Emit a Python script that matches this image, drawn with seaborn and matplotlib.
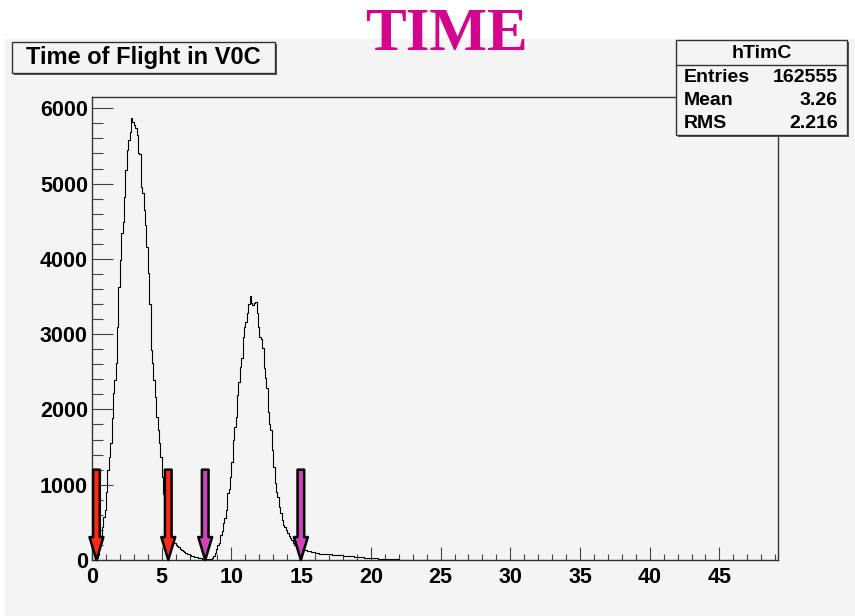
import numpy as np
import pandas as pd
import matplotlib
matplotlib.use("Agg")
import matplotlib.pyplot as plt
import seaborn as sns
from matplotlib.patches import Rectangle
from matplotlib.ticker import MultipleLocator

# ---------------- data ----------------
bin_width = 0.1
counts = [
    1, 4, 10, 25, 60, 150, 266, 442, 575, 664,
    900, 1195, 1372, 1549, 1880, 2213, 2390, 2612, 3100, 3630,
    3984, 4339, 4493, 4825, 5179, 5445, 5578, 5688, 5866, 5821,
    5777, 5733, 5644, 5400, 5390, 4958, 4869, 4650, 4450, 4161,
    3807, 3400, 2789, 2612, 2390, 2169, 1903, 1726, 1549, 1372,
    1100, 880, 720, 590, 480, 400, 340, 290, 255, 230,
    205, 185, 168, 152, 138, 124, 110, 97, 86, 76,
    67, 59, 52, 46, 40, 35, 30, 26, 22, 19,
    17, 15, 13, 13, 15, 19, 24, 55, 89, 140,
    199, 230, 332, 380, 487, 560, 664, 885, 940, 1107,
    1306, 1600, 1770, 1903, 2191, 2368, 2559, 2678, 2966, 3099,
    3165, 3276, 3400, 3506, 3417, 3386, 3417, 3431, 3276, 3099,
    2966, 2930, 2811, 2545, 2413, 2280, 1969, 1800, 1726, 1461,
    1240, 1018, 900, 841, 700, 620, 531, 470, 442, 400,
    354, 325, 288, 262, 230, 205, 188, 172, 160, 150,
    144, 139, 135, 131, 126, 121, 116, 112, 110, 102,
    94, 89, 88, 86, 85, 83, 81, 80, 78, 77,
    76, 74, 73, 71, 69, 68, 66, 64, 62, 61,
    59, 58, 56, 54, 53, 51, 49, 47, 46, 44,
    42, 41, 39, 37, 35, 33, 31, 30, 28, 26,
    25, 23, 22, 21, 20, 18, 17, 16, 15, 14,
    13, 12, 11, 10, 9, 9, 8, 8, 7, 7,
    6, 6, 6, 5, 5, 5, 5, 4, 4, 4,
    4, 4, 3, 3, 3, 3, 3, 3, 2, 2,
    2, 2, 2, 2, 2, 2, 1, 1, 1, 1,
    1, 1, 1, 1, 1, 1, 1, 1, 1, 1,
]
x_ticks = [0, 5, 10, 15, 20, 25, 30, 35, 40, 45]
y_ticks = [0, 1000, 2000, 3000, 4000, 5000, 6000]
x_range = (0, 49.2)
y_range = (0, 6150)
arrow_x = [0.32, 5.47, 8.12, 14.98]
arrow_colors = ["#ff2a14", "#ff2a14", "#cc44b8", "#cc44b8"]
arrow_top = 1200
title_text = "Time of Flight in V0C"
hist_name = "hTimC"
stats_labels = ["Entries", "Mean", "RMS"]
stats_values = ["162555", "3.26", "2.216"]
banner = "TIME"

# ---------------- style ----------------
BG = "#f4f4f4"
sns.set_theme(style="ticks")
plt.rcParams["font.family"] = ["Liberation Sans", "DejaVu Sans"]
plt.rcParams["text.color"] = "black"

W, H = 855, 616
fig = plt.figure(figsize=(W / 100, H / 100), dpi=100, facecolor="white")


def fx(px):
    return px / W


def fy(py):
    return 1 - py / H


# grey canvas
fig.patches.append(Rectangle((fx(5), 0), 1 - fx(5), fy(39), transform=fig.transFigure,
                             fc=BG, ec="none", zorder=-5))

ax = fig.add_axes([fx(92), fy(560), fx(778) - fx(92), fy(97) - fy(560)])
ax.set_zorder(1)
ax.set_facecolor(BG)

n_bins = len(counts)
centers = (np.arange(n_bins) + 0.5) * bin_width
df = pd.DataFrame({"time": centers, "count": counts})
sns.histplot(data=df, x="time", weights="count", binwidth=bin_width,
             binrange=(0, n_bins * bin_width), element="step",
             fill=False, color="black", linewidth=0.8, ax=ax)

ax.set_xlim(*x_range)
ax.set_ylim(*y_range)
ax.set_xlabel("")
ax.set_ylabel("")
ax.set_xticks(x_ticks)
ax.set_yticks(y_ticks)
ax.xaxis.set_minor_locator(MultipleLocator(1))
ax.yaxis.set_minor_locator(MultipleLocator(200))
ax.tick_params(axis="y", which="major", direction="in", length=15, width=0.8,
               color="#444444", labelsize=15.5, pad=3)
ax.tick_params(axis="y", which="minor", direction="in", length=8, width=0.8, color="#444444")
ax.tick_params(axis="x", which="major", direction="in", length=9.5, width=0.8,
               color="#444444", labelsize=15.5, pad=5)
ax.tick_params(axis="x", which="minor", direction="in", length=4.5, width=0.8, color="#444444")
for lbl in ax.get_xticklabels() + ax.get_yticklabels():
    lbl.set_fontweight("bold")
    lbl.set_color("black")
for s in ax.spines.values():
    s.set_color("#333333")
    s.set_linewidth(1.0)

# arrows
for xa, col in zip(arrow_x, arrow_colors):
    ax.annotate("", xy=(xa, 0), xytext=(xa, arrow_top),
                arrowprops=dict(arrowstyle="simple,head_length=1.65,head_width=1.0,tail_width=0.48",
                                mutation_scale=10, fc=col, ec="black", lw=1.8,
                                shrinkA=0, shrinkB=0),
                annotation_clip=False, zorder=5)


def box(x0, y0, x1, y1, z=10):
    fig.patches.append(Rectangle((fx(x0 + 2), fy(y1 + 2)), fx(x1 - x0), fy(y0) - fy(y1),
                                 transform=fig.transFigure, fc="#555555", ec="none", zorder=z))
    fig.patches.append(Rectangle((fx(x0), fy(y1)), fx(x1 - x0), fy(y0) - fy(y1),
                                 transform=fig.transFigure, fc=BG, ec="#333333", lw=1.0,
                                 zorder=z + 1))


# title box
box(12, 42, 275, 73)
fig.text(fx(143.5), fy(57.5), title_text, ha="center", va="center", fontsize=17,
         fontweight="bold", color="black", zorder=20)

# stats box
box(676, 40, 847, 135)
fig.lines.append(plt.Line2D([fx(676), fx(847)], [fy(65), fy(65)], transform=fig.transFigure,
                            color="#333333", lw=1.0, zorder=15))
fig.text(fx(762), fy(53), hist_name, ha="center", va="center", fontsize=14,
         fontweight="bold", color="black", zorder=20)
for i, (lab, val) in enumerate(zip(stats_labels, stats_values)):
    yy = 77 + i * 23.5
    fig.text(fx(684), fy(yy), lab, ha="left", va="center", fontsize=14, fontweight="bold",
             color="black", zorder=20)
    fig.text(fx(838), fy(yy), val, ha="right", va="center", fontsize=14, fontweight="bold",
             color="black", zorder=20)

# banner
fig.text(fx(446), fy(50), banner, ha="center", va="baseline", fontsize=44, fontweight="bold",
         family=["Liberation Serif", "DejaVu Serif"], color="#d4058c", zorder=20)

fig.savefig("out.png", dpi=100, facecolor=fig.get_facecolor())
